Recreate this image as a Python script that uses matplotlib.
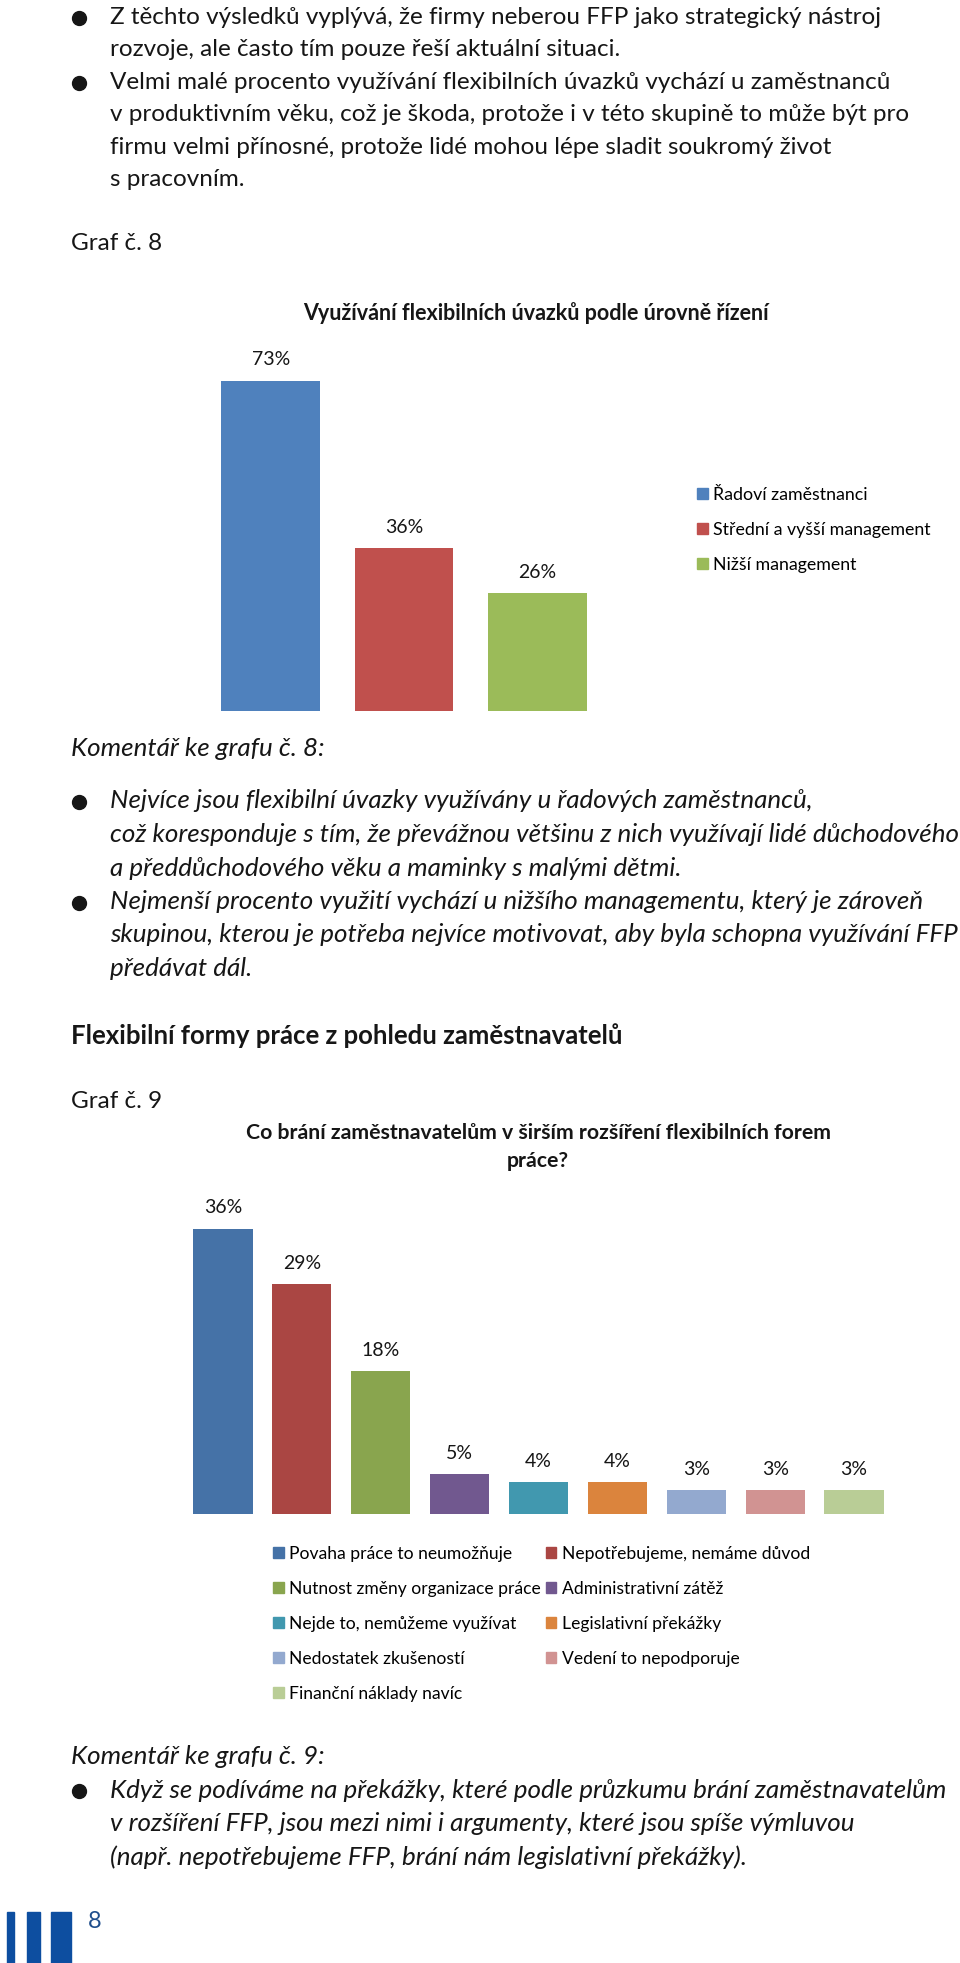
import matplotlib
matplotlib.use("Agg")
import matplotlib.pyplot as plt
from matplotlib.patches import Patch, Rectangle

plt.rcParams['font.family'] = ['Lato', 'DejaVu Sans']

# --- data ---
levels = ['Řadoví zaměstnanci', 'Střední a vyšší management', 'Nižší management']
level_share = [73, 36, 26]
level_colors = ['#4F81BD', '#C0504D', '#9BBB59']

barriers = ['Povaha práce to neumožňuje', 'Nepotřebujeme, nemáme důvod',
            'Nutnost změny organizace práce', 'Administrativní zátěž',
            'Nejde to, nemůžeme využívat', 'Legislativní překážky',
            'Nedostatek zkušeností', 'Vedení to nepodporuje',
            'Finanční náklady navíc']
barrier_share = [36, 29, 18, 5, 4, 4, 3, 3, 3]
barrier_colors = ['#4572A7', '#AA4643', '#89A54E', '#71588F', '#4198AF',
                  '#DB843D', '#93A9CF', '#D19392', '#B9CD96']

intro = [
    (True, 'Z těchto výsledků vyplývá, že firmy neberou FFP jako strategický nástroj'),
    (False, 'rozvoje, ale často tím pouze řeší aktuální situaci.'),
    (True, 'Velmi malé procento využívání flexibilních úvazků vychází u zaměstnanců'),
    (False, 'v produktivním věku, což je škoda, protože i v této skupině to může být pro'),
    (False, 'firmu velmi přínosné, protože lidé mohou lépe sladit soukromý život'),
    (False, 's pracovním.'),
]
comment8 = [
    (True, 'Nejvíce jsou flexibilní úvazky využívány u řadových zaměstnanců,'),
    (False, 'což koresponduje s tím, že převážnou většinu z nich využívají lidé důchodového'),
    (False, 'a předdůchodového věku a maminky s malými dětmi.'),
    (True, 'Nejmenší procento využití vychází u nižšího managementu, který je zároveň'),
    (False, 'skupinou, kterou je potřeba nejvíce motivovat, aby byla schopna využívání FFP'),
    (False, 'předávat dál.'),
]
comment9 = [
    (True, 'Když se podíváme na překážky, které podle průzkumu brání zaměstnavatelům'),
    (False, 'v rozšíření FFP, jsou mezi nimi i argumenty, které jsou spíše výmluvou'),
    (False, '(např. nepotřebujeme FFP, brání nám legislativní překážky).'),
]

W, H = 960, 1963
fig = plt.figure(figsize=(W / 100, H / 100), dpi=100)
bg = fig.add_axes([0, 0, 1, 1])
bg.set_xlim(0, W)
bg.set_ylim(H, 0)
bg.axis('off')

BODY = 17.5
BODY_IT = 18.75
TXT = '#161616'


def block(lines, y0, step, italic=False):
    for i, (bullet, s) in enumerate(lines):
        y = y0 + i * step
        if bullet:
            bg.plot(79, y + 1, 'o', ms=10, color=TXT)
        bg.text(110, y, s, fontsize=BODY_IT if italic else BODY, va='center', color=TXT,
                style='italic' if italic else 'normal')


block(intro, 17, 32.6)
bg.text(71, 244, 'Graf č. 8', fontsize=BODY, va='center', color=TXT)


def axes_px(left, top, right, bottom):
    return fig.add_axes([left / W, 1 - bottom / H, (right - left) / W, (bottom - top) / H])


# --- chart 8 ---
ax8 = axes_px(204, 349, 604, 711)
ax8.bar(range(3), level_share, width=0.74, color=level_colors)
for i, v in enumerate(level_share):
    ax8.annotate(f'{v}%', (i, v), xytext=(0, 21), textcoords='offset pixels',
                 ha='center', va='center', fontsize=14, color=TXT)
ax8.set_xlim(-0.5, 2.5)
ax8.set_ylim(0, 80)
ax8.axis('off')
bg.text(536, 313, 'Využívání flexibilních úvazků podle úrovně řízení',
        fontsize=15.5, fontweight='bold', ha='center', va='center', color=TXT)
fig.legend([Patch(color=c) for c in level_colors], levels,
           loc='upper left', bbox_to_anchor=(697 / W, 1 - 487 / H), frameon=False,
           fontsize=12.8, handlelength=0.6, handleheight=0.6, handletextpad=0.3,
           labelspacing=1.07, borderaxespad=0, borderpad=0)

bg.text(71, 748, 'Komentář ke grafu č. 8:', fontsize=BODY_IT, va='center',
        style='italic', color=TXT)
block(comment8, 801, 33.5, italic=True)

bg.text(71, 1036, 'Flexibilní formy práce z pohledu zaměstnavatelů', fontsize=18.5,
        fontweight='bold', va='center', color=TXT)
bg.text(71, 1101, 'Graf č. 9', fontsize=BODY, va='center', color=TXT)

# --- chart 9 ---
ax9 = axes_px(183.5, 1197, 893.5, 1514)
ax9.bar(range(9), barrier_share, width=0.75, color=barrier_colors)
for i, v in enumerate(barrier_share):
    ax9.annotate(f'{v}%', (i, v), xytext=(0, 21), textcoords='offset pixels',
                 ha='center', va='center', fontsize=14, color=TXT)
ax9.set_xlim(-0.5, 8.5)
ax9.set_ylim(0, 40)
ax9.axis('off')
bg.text(538, 1147, 'Co brání zaměstnavatelům v širším rozšíření flexibilních forem\npráce?',
        fontsize=15.3, fontweight='bold', ha='center', va='center', color=TXT,
        linespacing=1.55)

order = [0, 2, 4, 6, 8, 1, 3, 5, 7]
fig.legend([Patch(color=barrier_colors[k]) for k in order], [barriers[k] for k in order],
           ncol=2, loc='upper left', bbox_to_anchor=(273 / W, 1 - 1546 / H), frameon=False,
           fontsize=12.6, handlelength=0.6, handleheight=0.6, handletextpad=0.3,
           labelspacing=1.08, columnspacing=0.3, borderaxespad=0, borderpad=0)

bg.text(71, 1756, 'Komentář ke grafu č. 9:', fontsize=BODY_IT, va='center',
        style='italic', color=TXT)
block(comment9, 1790, 33.5, italic=True)

# --- footer ---
for x0, w in [(7, 7), (27, 13), (51, 20)]:
    bg.add_patch(Rectangle((x0, 1912), w, 51, color='#0D4EA0'))
bg.text(88, 1922, '8', fontsize=17, va='center', color='#1F4E8C')

fig.savefig('out.png', dpi=100)
